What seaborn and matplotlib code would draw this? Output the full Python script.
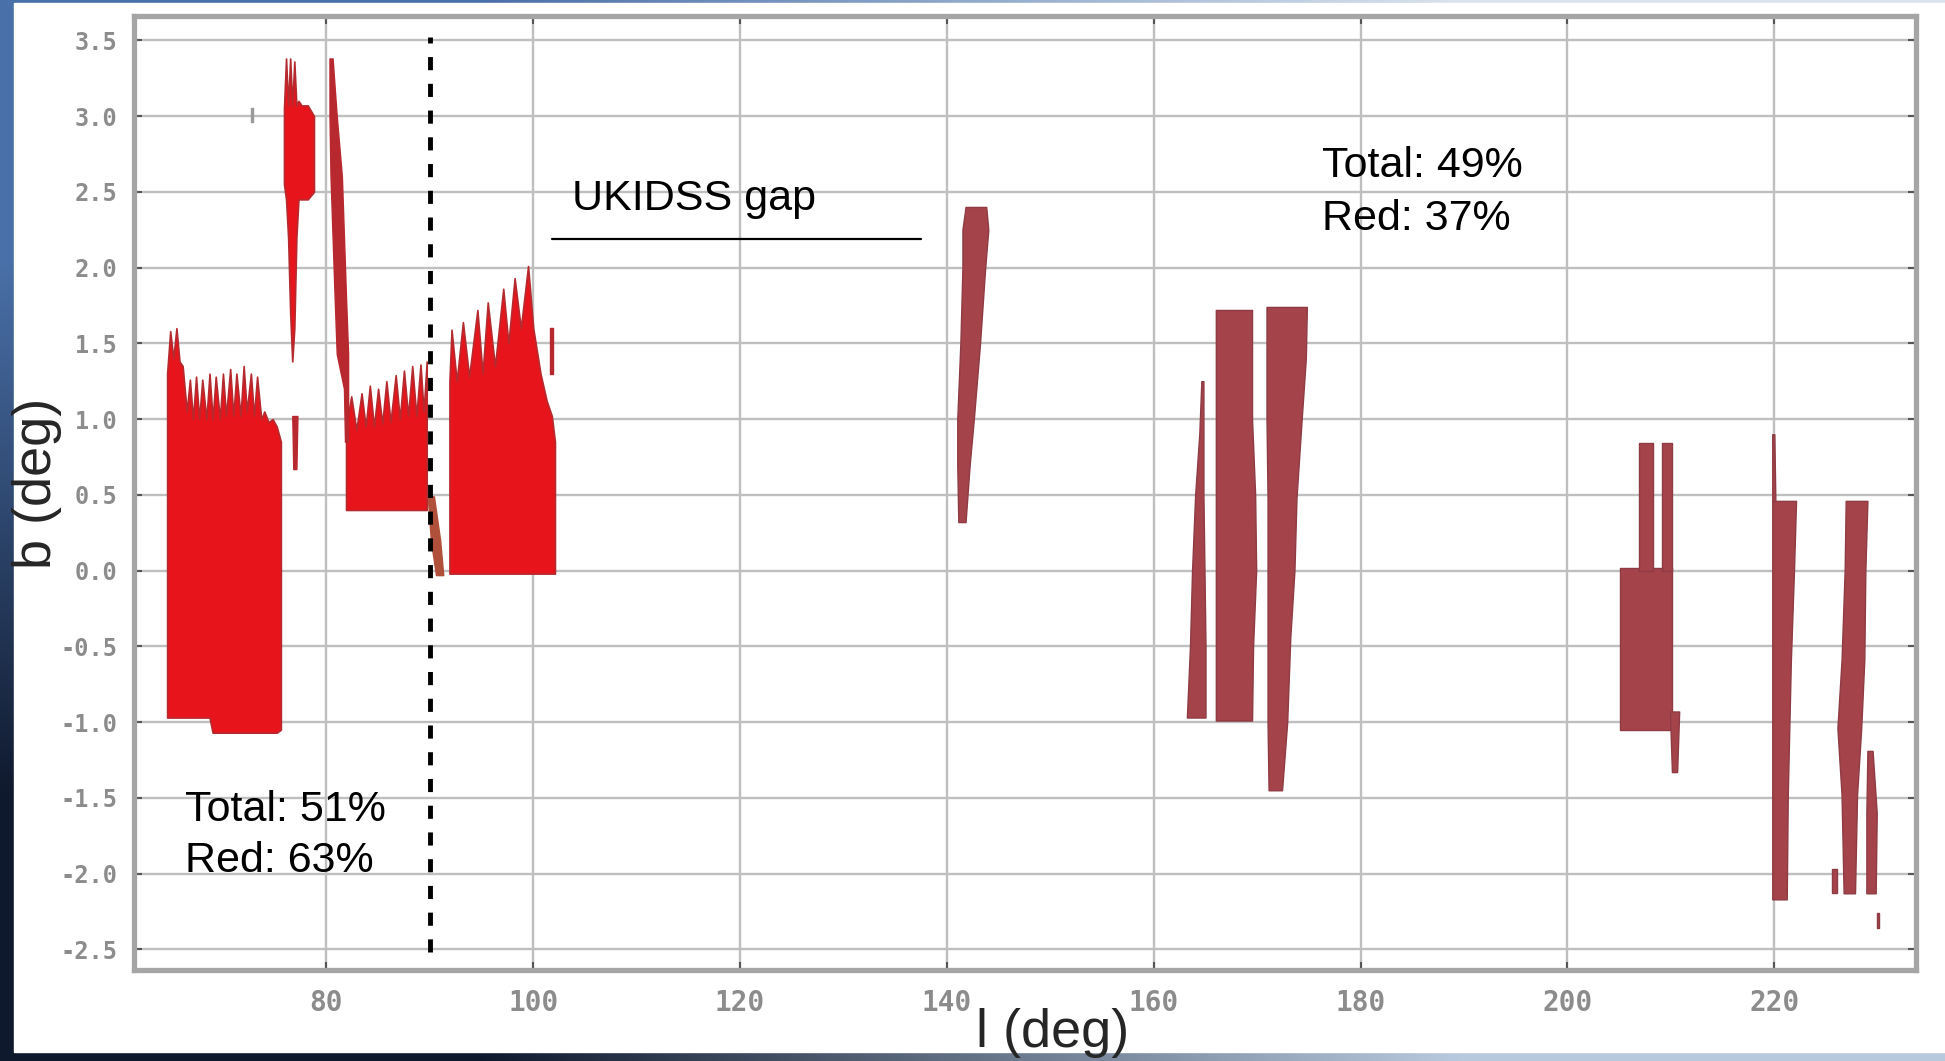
import numpy as np
import matplotlib
matplotlib.use("Agg")
import matplotlib.pyplot as plt
from matplotlib import font_manager
from matplotlib.patches import Rectangle
import seaborn as sns

# ---- coverage fields (l, b in degrees) ----
# fields with a spiky upper edge: l, upper b, lower b
fa_l = [64.6, 64.9, 65.2, 65.5, 65.8, 66.1, 66.5, 66.8, 67.1, 67.4, 67.7, 68.0, 68.4, 68.7,
        69.0, 69.3, 69.7, 70.0, 70.3, 70.7, 71.0, 71.3, 71.7, 72.0, 72.3, 72.7, 73.0, 73.3,
        73.7, 74.0, 74.4, 74.8, 75.2, 75.6]
fa_top = [1.30, 1.58, 1.40, 1.60, 1.38, 1.35, 1.05, 1.26, 1.00, 1.28, 1.00, 1.26, 1.00, 1.30,
          1.00, 1.28, 1.00, 1.30, 1.02, 1.33, 1.02, 1.30, 1.02, 1.35, 1.05, 1.30, 1.02, 1.28,
          1.00, 1.05, 0.98, 1.00, 0.95, 0.85]
fa_bot = [-0.97, -0.97, -0.97, -0.97, -0.97, -0.97, -0.97, -0.97, -0.97, -0.97, -0.97, -0.97,
          -0.97, -0.97, -1.07, -1.07, -1.07, -1.07, -1.07, -1.07, -1.07, -1.07, -1.07, -1.07,
          -1.07, -1.07, -1.07, -1.07, -1.07, -1.07, -1.07, -1.07, -1.07, -1.05]

fb_l = [75.9, 76.1, 76.3, 76.5, 76.7, 76.9, 77.1, 77.3, 77.6, 78.2, 78.8]
fb_top = [3.05, 3.38, 3.07, 3.38, 3.07, 3.36, 3.07, 3.10, 3.07, 3.07, 3.00]
fb_bot = [2.55, 2.45, 2.20, 1.70, 1.38, 1.60, 2.20, 2.45, 2.45, 2.45, 2.50]

fc_l = [81.9, 82.4, 82.9, 83.4, 83.8, 84.2, 84.6, 85.0, 85.4, 85.8, 86.2, 86.7, 87.1, 87.5,
        87.9, 88.3, 88.7, 89.1, 89.4, 89.7]
fc_top = [0.95, 1.15, 0.93, 1.17, 0.95, 1.22, 0.95, 1.20, 0.97, 1.25, 0.98, 1.29, 1.00, 1.32,
          1.02, 1.35, 1.02, 1.36, 1.05, 1.38]
fc_bot = [0.40, 0.40, 0.40, 0.40, 0.40, 0.40, 0.40, 0.40, 0.40, 0.40, 0.40, 0.40, 0.40, 0.40,
          0.40, 0.40, 0.40, 0.40, 0.40, 0.40]

fd_l = [91.9, 92.1, 92.6, 93.2, 93.8, 94.6, 95.1, 95.6, 96.3, 97.1, 97.6, 98.2, 98.8, 99.5,
        100.0, 100.7, 101.3, 101.8, 102.1]
fd_top = [1.25, 1.59, 1.25, 1.64, 1.28, 1.72, 1.30, 1.77, 1.35, 1.86, 1.50, 1.93, 1.60, 2.01,
          1.60, 1.30, 1.12, 1.02, 0.85]
fd_bot = [-0.02, -0.02, -0.02, -0.02, -0.02, -0.02, -0.02, -0.02, -0.02, -0.02, -0.02, -0.02,
          -0.02, -0.02, -0.02, -0.02, -0.02, -0.02, -0.02]

# narrow strips: b, left l, right l  (bright red group, l < 103)
s_b77_b = [0.67, 1.02]
s_b77_left = [76.8, 76.7]
s_b77_right = [77.1, 77.2]
s_b81_b = [0.85, 1.20, 1.43, 1.80, 2.20, 2.60, 3.00, 3.38]
s_b81_left = [81.8, 81.7, 81.0, 80.8, 80.6, 80.4, 80.3, 80.3]
s_b81_right = [82.1, 82.1, 82.1, 81.9, 81.7, 81.5, 81.0, 80.6]
s_c90_b = [-0.03, 0.20, 0.49]
s_c90_left = [90.6, 90.1, 89.8]
s_c90_right = [91.3, 91.0, 90.4]
s_d101_b = [1.30, 1.60]
s_d101_left = [101.6, 101.6]
s_d101_right = [101.9, 101.9]
s_dot72_b = [2.96, 3.05]
s_dot72_left = [72.7, 72.7]
s_dot72_right = [72.9, 72.9]

# strips of the second group (l > 140)
s_e_b = [0.32, 0.70, 1.00, 1.50, 2.00, 2.25, 2.40]
s_e_left = [141.1, 141.0, 141.0, 141.3, 141.5, 141.5, 141.8]
s_e_right = [141.8, 142.2, 142.6, 143.2, 143.7, 144.0, 143.8]
s_f1_b = [-0.97, -0.50, 0.00, 0.50, 0.90, 1.25]
s_f1_left = [163.2, 163.5, 163.7, 164.0, 164.4, 164.6]
s_f1_right = [165.0, 165.0, 164.9, 164.8, 164.8, 164.8]
s_f2_b = [-0.99, -0.50, 0.00, 0.50, 1.00, 1.40, 1.72]
s_f2_left = [166.0, 166.0, 166.0, 166.0, 166.0, 166.0, 166.0]
s_f2_right = [169.5, 169.6, 169.9, 169.8, 169.5, 169.5, 169.5]
s_f3_b = [-1.45, -1.00, -0.44, 0.00, 0.48, 1.00, 1.40, 1.74]
s_f3_left = [171.1, 171.0, 171.0, 171.0, 171.0, 170.9, 170.9, 170.9]
s_f3_right = [172.4, 172.9, 173.2, 173.6, 173.8, 174.3, 174.7, 174.8]
s_g_b = [-1.05, 0.02]
s_g_left = [205.1, 205.1]
s_g_right = [210.1, 210.1]
s_g1_b = [0.00, 0.84]
s_g1_left = [206.9, 206.9]
s_g1_right = [208.3, 208.3]
s_g2_b = [0.00, 0.84]
s_g2_left = [209.1, 209.1]
s_g2_right = [210.1, 210.1]
s_g3_b = [-1.33, -0.93]
s_g3_left = [210.1, 209.9]
s_g3_right = [210.6, 210.8]
s_h1_b = [-2.17, -1.48, -0.59, 0.00, 0.46]
s_h1_left = [219.8, 219.8, 219.8, 219.8, 219.8]
s_h1_right = [221.2, 221.3, 221.6, 221.9, 222.1]
s_h1t_b = [0.46, 0.90]
s_h1t_left = [219.8, 219.8]
s_h1t_right = [220.1, 220.0]
s_h2_b = [-2.13, -1.48, -1.04, -0.59, 0.00, 0.46]
s_h2_left = [226.7, 226.5, 226.1, 226.5, 226.8, 226.9]
s_h2_right = [227.8, 228.0, 228.4, 228.7, 228.8, 229.0]
s_h2s_b = [-2.13, -1.97]
s_h2s_left = [225.6, 225.6]
s_h2s_right = [226.1, 226.1]
s_h3_b = [-2.13, -1.60, -1.19]
s_h3_left = [228.9, 228.9, 229.0]
s_h3_right = [229.8, 229.9, 229.5]
s_h3d_b = [-2.36, -2.26]
s_h3d_left = [229.9, 229.9]
s_h3d_right = [230.1, 230.1]

# annotations
split_l = 90.0
split_b = [-2.52, 3.52]
gap_line_l = [101.8, 137.5]
gap_line_b = [2.19, 2.19]

x_ticks = [80, 100, 120, 140, 160, 180, 200, 220]
y_ticks = [-2.5, -2.0, -1.5, -1.0, -0.5, 0.0, 0.5, 1.0, 1.5, 2.0, 2.5, 3.0, 3.5]
y_tick_labels = ["-2.5", "-2.0", "-1.5", "-1.0", "-0.5", "0.0", "0.5", "1.0", "1.5",
                 "2.0", "2.5", "3.0", "3.5"]

sns.set_theme(style="whitegrid")
plt.rcParams["font.family"] = ["Liberation Sans", "DejaVu Sans"]

bright, bright_edge = "#e8141b", "#b52a2e"
dark_red = "#b8292f"
muted, muted_edge = "#a5434b", "#8f3b43"

fig = plt.figure(figsize=(19.45, 10.61), dpi=100)

# slide background
bg = fig.add_axes([0, 0, 1, 1], zorder=-10)
bg.axis("off")
corners = np.array([[[0.29, 0.44, 0.66], [0.85, 0.89, 0.93]],
                    [[0.06, 0.10, 0.18], [0.72, 0.79, 0.87]]])
bg.imshow(corners, interpolation="bilinear", aspect="auto", extent=[0, 1, 0, 1])
fig.add_artist(Rectangle((14 / 1945, 9 / 1061), 1, 1 - 12 / 1061,
                         transform=fig.transFigure, color="white", zorder=-5))

ax = fig.add_axes([0.0689, 0.0858, 0.9162, 0.8991])
ax.set_facecolor("white")


def field(l, top, bot, color, edge):
    ax.fill_between(l, bot, top, color=color, ec=edge, lw=1.2, zorder=2)


def strip(b, left, right, color, edge):
    ax.fill_betweenx(b, left, right, color=color, ec=edge, lw=1.0, zorder=2)


field(fa_l, fa_top, fa_bot, bright, bright_edge)
field(fb_l, fb_top, fb_bot, bright, bright_edge)
field(fc_l, fc_top, fc_bot, bright, bright_edge)
field(fd_l, fd_top, fd_bot, bright, bright_edge)
strip(s_b77_b, s_b77_left, s_b77_right, dark_red, dark_red)
strip(s_b81_b, s_b81_left, s_b81_right, dark_red, dark_red)
strip(s_c90_b, s_c90_left, s_c90_right, "#b0503a", "#b0503a")
strip(s_d101_b, s_d101_left, s_d101_right, dark_red, dark_red)
strip(s_dot72_b, s_dot72_left, s_dot72_right, "#9a9a9a", "#9a9a9a")

for b, lo, hi in [(s_e_b, s_e_left, s_e_right), (s_f1_b, s_f1_left, s_f1_right),
                  (s_f2_b, s_f2_left, s_f2_right), (s_f3_b, s_f3_left, s_f3_right),
                  (s_g_b, s_g_left, s_g_right), (s_g1_b, s_g1_left, s_g1_right),
                  (s_g2_b, s_g2_left, s_g2_right), (s_g3_b, s_g3_left, s_g3_right),
                  (s_h1_b, s_h1_left, s_h1_right), (s_h1t_b, s_h1t_left, s_h1t_right),
                  (s_h2_b, s_h2_left, s_h2_right), (s_h2s_b, s_h2s_left, s_h2s_right),
                  (s_h3_b, s_h3_left, s_h3_right), (s_h3d_b, s_h3d_left, s_h3d_right)]:
    strip(b, lo, hi, muted, muted_edge)

# UKIDSS split and gap marker
ax.plot([split_l, split_l], split_b, color="black", lw=3.5,
        linestyle=(0, (2.7, 2.8)), zorder=4)
sns.lineplot(x=gap_line_l, y=gap_line_b, color="black", lw=1.6, ax=ax, zorder=4)

ax.set_xlim(61.4, 233.7)
ax.set_ylim(-2.636, 3.66)
ax.set_xticks(x_ticks)
ax.set_yticks(y_ticks)
ax.set_xticklabels([str(t) for t in x_ticks], fontfamily="DejaVu Sans Mono",
                   fontsize=20, fontweight="bold", color="#8c8c8c")
ax.set_yticklabels(y_tick_labels, fontfamily="DejaVu Sans Mono", fontsize=17,
                   fontweight="bold", color="#8c8c8c")
ax.tick_params(direction="in", length=6, width=1.5, color="#555555",
               top=True, right=True, bottom=True, left=True)
ax.tick_params(axis="x", pad=14)
ax.tick_params(axis="y", pad=12)
ax.grid(True, color="#bfbfbf", lw=1.7)
ax.set_axisbelow(True)
for s in ax.spines.values():
    s.set_color("#a5a5a5")
    s.set_linewidth(3.8)

names = {f.name for f in font_manager.fontManager.ttflist}
if "Liberation Sans Narrow" in names:
    low_font, low_size = ["Liberation Sans Narrow", "DejaVu Sans"], 36
else:
    low_font, low_size = ["Liberation Sans", "DejaVu Sans"], 31

ax.text(103.75, 2.38, "UKIDSS gap", fontsize=31, va="baseline", color="black", zorder=5)
ax.text(176.3, 2.60, "Total: 49%", fontsize=31, va="baseline", color="black", zorder=5)
ax.text(176.3, 2.25, "Red: 37%", fontsize=31, va="baseline", color="black", zorder=5)
ax.text(66.3, -1.65, "Total: 51%", fontsize=low_size, family=low_font, va="baseline",
        color="black", zorder=5)
ax.text(66.3, -1.99, "Red: 63%", fontsize=low_size, family=low_font, va="baseline",
        color="black", zorder=5)

fig.text(0.019, 0.544, "b (deg)", rotation=90, fontsize=39, ha="center", va="center")
fig.text(0.541, 0.0132, "l (deg)", fontsize=39, ha="center", va="baseline")

fig.savefig("out.png", dpi=100)
